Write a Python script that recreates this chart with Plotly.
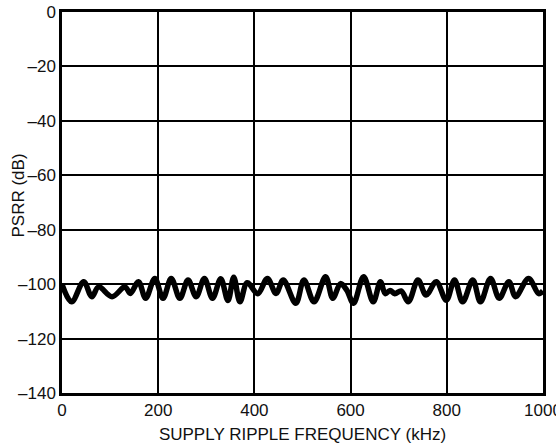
import plotly.graph_objects as go

# Extrema of the PSRR ripple curve
freq_khz = [0, 20, 45, 62, 76, 104, 131, 142, 159, 174, 193, 210, 227, 245, 262, 279, 296, 313,
            330, 345, 357, 370, 385, 407, 427, 445, 460, 486, 503, 524, 548, 563, 579, 592, 606,
            627, 647, 662, 672, 682, 692, 705, 720, 740, 757, 778, 799, 816, 833, 854, 870, 891,
            909, 929, 943, 970, 991, 1000]
psrr_db = [-100, -106.5, -99.1, -104.6, -101, -104.6, -101, -103.4, -99.1, -105.2, -97.9, -105.2,
           -97.9, -105.2, -98.5, -104.6, -97.9, -105.2, -98, -106, -97.5, -106.5, -99.5, -103.5,
           -97.9, -103.4, -98.5, -107, -98.5, -106.5, -97.3, -105.2, -99.8, -102.2, -107, -97.3,
           -106.5, -99.1, -103.5, -102.3, -103.5, -102.5, -106.5, -98.5, -104, -99.1, -105.9,
           -98.5, -106.5, -98.5, -106.5, -97.9, -105.2, -99.1, -104.6, -97.9, -103.5, -102.5]

x_tick_vals = [0, 200, 400, 600, 800, 1000]
x_tick_text = ["0", "200", "400", "600", "800", "1000"]
y_tick_vals = [0, -20, -40, -60, -80, -100, -120, -140]
y_tick_text = ["0", "–20", "–40", "–60", "–80", "–100", "–120", "–140"]

fig = go.Figure()
fig.add_trace(go.Scatter(
    x=freq_khz, y=psrr_db, mode="lines",
    line=dict(color="black", width=5.5, shape="spline", smoothing=1.0),
    showlegend=False, hoverinfo="skip"))

font = dict(family="Liberation Sans, Arial, sans-serif", size=17, color="#111111")

fig.update_layout(
    width=556, height=446,
    margin=dict(l=62, r=13, t=12, b=53, autoexpand=False),
    paper_bgcolor="white", plot_bgcolor="white",
    font=font,
    xaxis=dict(range=[0, 1000], tickvals=x_tick_vals, ticktext=x_tick_text,
               showgrid=True, gridcolor="black", gridwidth=1.5,
               showline=True, linecolor="black", linewidth=2.5, mirror=True,
               ticks="", zeroline=False, tickfont=font, ticklabeloverflow="allow",
               automargin=False,
               title=dict(text="SUPPLY RIPPLE FREQUENCY (kHz)", font=font, standoff=9)),
    yaxis=dict(range=[-140, 0], tickvals=y_tick_vals, ticktext=y_tick_text,
               showgrid=True, gridcolor="black", gridwidth=1.5,
               showline=True, linecolor="black", linewidth=2.5, mirror=True,
               ticks="", zeroline=False, tickfont=font, ticklabeloverflow="allow",
               automargin=False),
    annotations=[dict(text="PSRR (dB)", textangle=-90, font=font, showarrow=False,
                      xref="paper", yref="paper", x=0, y=0.5, xanchor="center",
                      yanchor="middle", xshift=-44, yshift=7)],
)

fig.write_html(
    "out.html",
    config={"displayModeBar": False},
    post_script="document.body.style.margin='0';document.body.style.overflow='hidden';",
)
